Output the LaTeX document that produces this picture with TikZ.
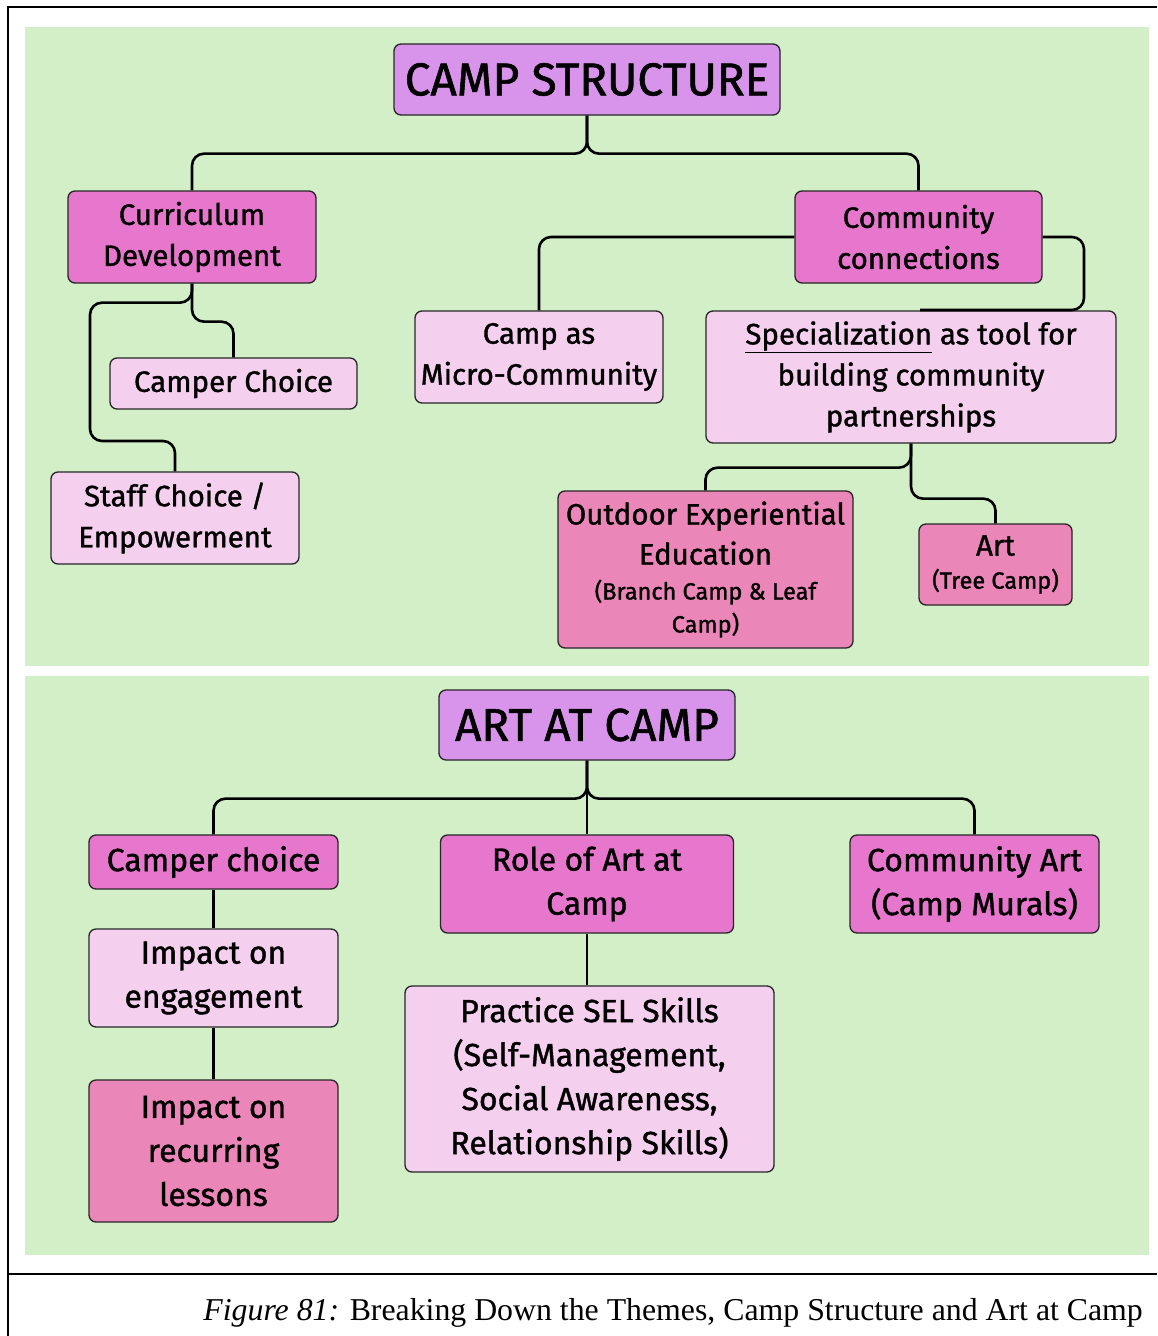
\documentclass[tikz,border=0pt]{standalone}
\usepackage{fontspec}
\setmainfont{Fira Sans}
\newfontfamily\handfont{Fira Sans}[FakeBold=1.2]
\newfontfamily\capfont{Liberation Serif}

\definecolor{panelgreen}{HTML}{D2EFC8}
\definecolor{titlepurple}{HTML}{D894EA}
\definecolor{mainpink}{HTML}{E677CC}
\definecolor{lightpink}{HTML}{F4D0EE}
\definecolor{rosepink}{HTML}{EB86B8}

\newcommand{\smalltxt}{\fontsize{23.5}{34}\selectfont}

\tikzset{
  box/.style={draw=black!85, line width=1.3pt, rounded corners=7pt,
    align=center, inner sep=0pt},
  titlebox/.style={box, fill=titlepurple, font=\handfont\fontsize{46}{52}\selectfont},
  mainbox/.style={box, fill=mainpink, font=\handfont\fontsize{29.5}{41}\selectfont},
  subbox/.style={box, fill=lightpink, font=\handfont\fontsize{29.5}{41}\selectfont},
  leafbox/.style={box, fill=rosepink, font=\handfont\fontsize{29.5}{40}\selectfont},
  mainboxB/.style={mainbox, font=\handfont\fontsize{32}{44}\selectfont},
  subboxB/.style={subbox, font=\handfont\fontsize{32}{44}\selectfont},
  leafboxB/.style={leafbox, font=\handfont\fontsize{32}{44}\selectfont},
  conn/.style={draw=black, line width=2.6pt, rounded corners=12pt},
  frame/.style={draw=black, line width=2.4pt},
  sz/.style 2 args={minimum width=#1pt, minimum height=#2pt}
}

\begin{document}
\begin{tikzpicture}[x=1pt, y=-1pt]
  \useasboundingbox (0,0) rectangle (1157,1336);

  % page frame and caption rule
  \draw[frame] (1157,7) -- (8,7) -- (8,1336);
  \draw[frame] (8,1274) -- (1157,1274);

  % two green panels
  \fill[panelgreen] (25,27) rectangle (1149,666);
  \fill[panelgreen] (25,676) rectangle (1149,1255);

  % ---------- Camp structure ----------
  \node[titlebox, sz={386}{71}] (cs) at (587,79.5) {CAMP STRUCTURE};
  \node[mainbox, sz={248}{92}] (cur) at (192,237) {Curriculum\\Development};
  \node[mainbox, sz={247}{92}] (com) at (918.5,237) {Community\\connections};
  \node[subbox, sz={247}{51}] (cch) at (233.5,383.5) {Camper Choice};
  \node[subbox, sz={248}{92}] (staff) at (175,518) {Staff Choice /\\Empowerment};
  \node[subbox, sz={248}{92}] (micro) at (539,357) {Camp as\\Micro-Community};
  \node[subbox, sz={410}{132}] (spec) at (911,377)
    {\underline{Specialization} as tool for\\building community\\partnerships};
  \node[leafbox, sz={295}{157}] (oee) at (705.5,569.5)
    {Outdoor Experiential\\Education\\[-5pt]\smalltxt(Branch Camp \& Leaf\\[-7pt]\smalltxt Camp)};
  \node[leafbox, sz={153}{81}] (art) at (995.5,564.5)
    {Art\\[-7pt]\smalltxt(Tree Camp)};

  \coordinate (specjoin) at (920,310);

  \draw[conn] (cs.south) -- ++(0,38) -| (cur.north);
  \draw[conn] (cs.south) -- ++(0,38) -| (com.north);
  \draw[conn] (cur.south) -- ++(0,19) -| (90,441) -| (staff.north);
  \draw[conn] (cur.south) -- ++(0,38) -| (cch.north);
  \draw[conn] (com.west) -| (micro.north);
  \draw[conn] (com.east) -| (1084,310) -- (specjoin);
  \draw[conn] (spec.south) -- ++(0,24) -| (oee.north);
  \draw[conn] (spec.south) -- ++(0,55) -| (art.north);

  % ---------- Art at camp ----------
  \node[titlebox, sz={296}{70}] (aac) at (587,725) {ART AT CAMP};
  \node[mainboxB, sz={249}{54}] (cc2) at (213.5,862) {Camper choice};
  \node[mainboxB, sz={293}{98}] (role) at (587,884) {Role of Art at\\Camp};
  \node[mainboxB, sz={249}{98}] (cart) at (974.5,884) {Community Art\\(Camp Murals)};
  \node[subboxB, sz={249}{98}] (eng) at (213.5,978) {Impact on\\engagement};
  \node[leafboxB, sz={249}{142}] (rec) at (213.5,1151) {Impact on\\recurring\\lessons};
  \node[subboxB, sz={369}{186}] (sel) at (589.5,1079)
    {Practice SEL Skills\\(Self-Management,\\Social Awareness,\\Relationship Skills)};

  \draw[conn] (aac.south) -- ++(0,38) -| (cc2.north);
  \draw[conn] (aac.south) -- ++(0,38) -| (cart.north);
  \draw[conn] (aac.south) -- (role.north);
  \draw[conn] (cc2.south) -- (eng.north);
  \draw[conn] (eng.south) -- (rec.north);
  \draw[conn] (role.south) -- (role.south |- sel.north);

  % caption
  \node[anchor=base east, inner sep=0pt, font=\capfont\fontsize{31.8}{36}\selectfont]
    (cap) at (1143,1320)
    {\textit{Figure 81:} Breaking Down the Themes, Camp Structure and Art at Camp};
\end{tikzpicture}
\end{document}
